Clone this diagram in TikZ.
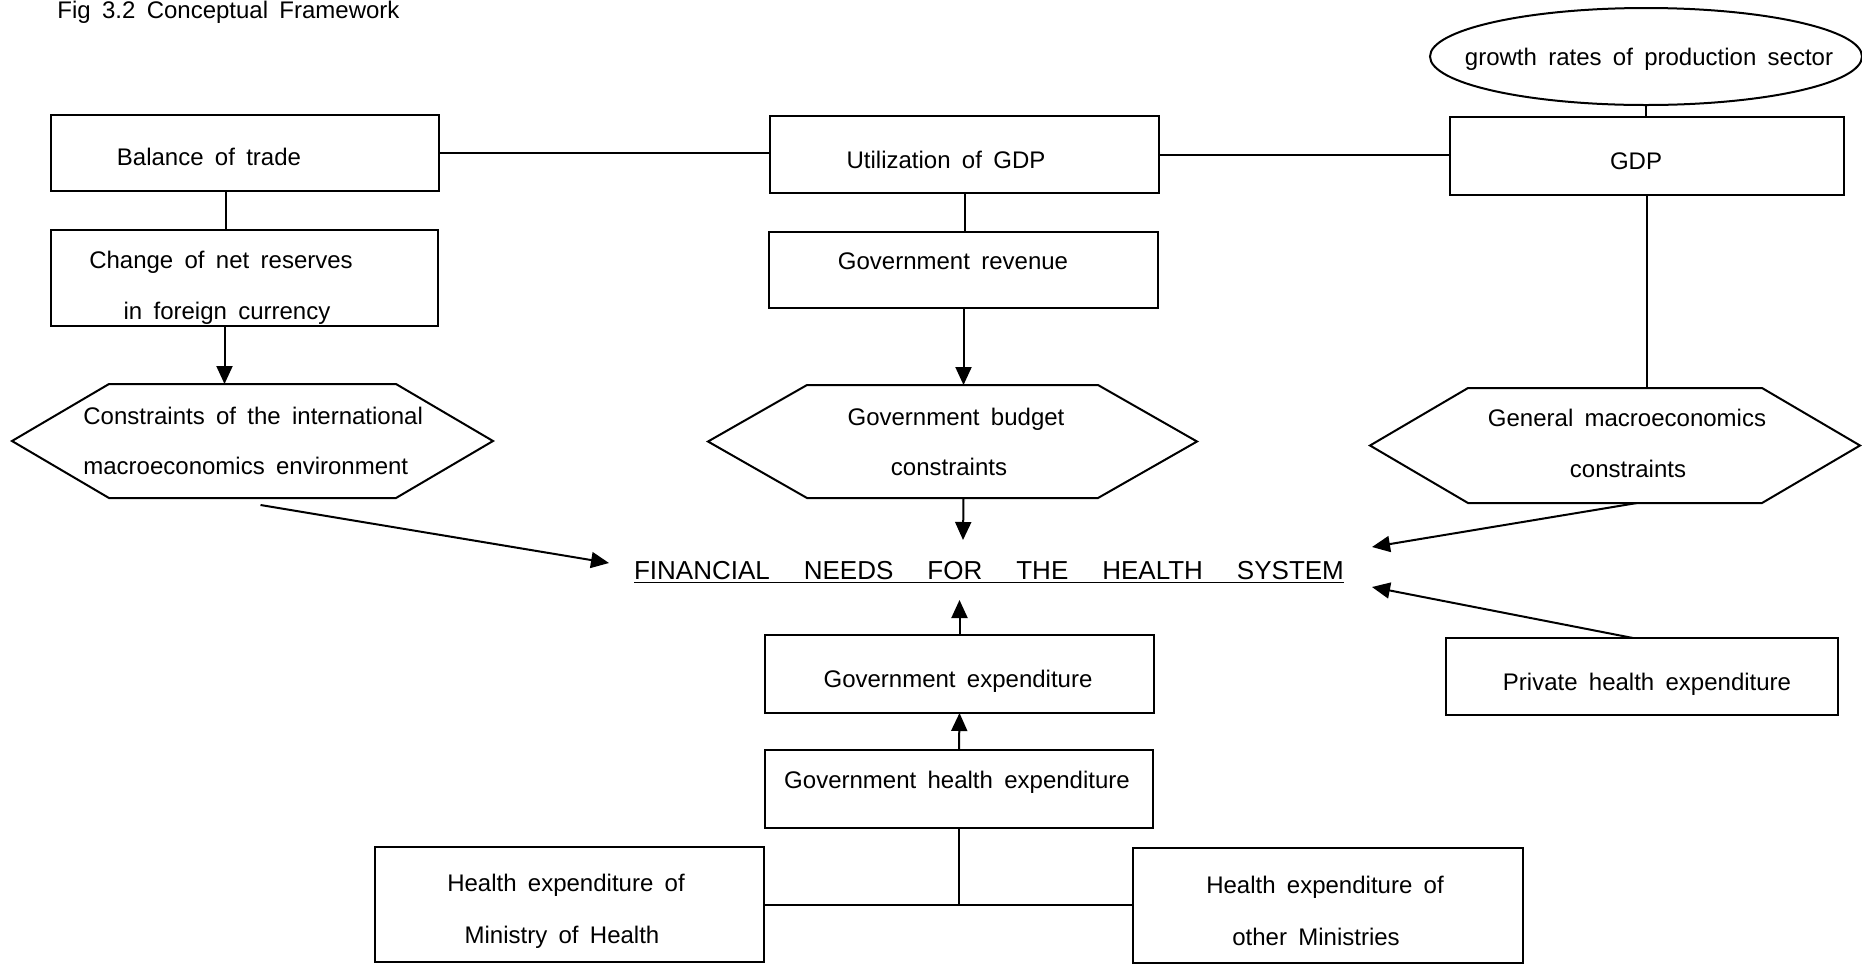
\documentclass[tikz,border=0pt]{standalone}
\usepackage{fontspec}
\setmainfont{Liberation Sans}[WordSpace=1.7]
\usetikzlibrary{arrows.meta,shapes.geometric}
\newcommand\hexdraw[2]{\draw[ln] (#1.west) -- ([xshift=#2]#1.north west) -- ([xshift=-#2]#1.north east) -- (#1.east) -- ([xshift=-#2]#1.south east) -- ([xshift=#2]#1.south west) -- cycle;}
\begin{document}
\begin{tikzpicture}[x=0.5pt,y=-0.5pt]
\tikzset{
 bx/.style={draw, line width=1pt, inner sep=0pt, outer sep=0pt, rectangle},
 hexn/.style={inner sep=0pt, outer sep=0pt, rectangle},
 tx/.style={font=\fontsize{12}{14}\selectfont, inner sep=0pt, text height=8.6pt, text depth=0pt},
 ln/.style={line width=1pt},
 ar/.style={line width=1pt, -{Triangle[length=9pt,width=8pt]}},
}
\useasboundingbox (0,0) rectangle (1862,965);

% boxes
\node[bx, minimum width=194pt, minimum height=38pt] (bal) at (245,153) {};
\node[bx, minimum width=194.5pt, minimum height=38.5pt] (util) at (964.5,154.5) {};
\node[bx, minimum width=197pt, minimum height=39pt] (gdp) at (1647,156) {};
\node[bx, minimum width=193.5pt, minimum height=48pt] (chg) at (244.5,278) {};
\node[bx, minimum width=194.5pt, minimum height=38pt] (rev) at (963.5,270) {};
\node[bx, minimum width=194.5pt, minimum height=39pt] (gexp) at (959.5,674) {};
\node[bx, minimum width=194pt, minimum height=39pt] (ghealth) at (959,789) {};
\node[bx, minimum width=196pt, minimum height=38.5pt] (priv) at (1642,676.5) {};
\node[bx, minimum width=194.5pt, minimum height=57.5pt] (moh) at (569.5,904.5) {};
\node[bx, minimum width=195pt, minimum height=57.5pt] (oth) at (1328,905.5) {};
\node[draw, ellipse, line width=1pt, inner sep=0pt, outer sep=0pt, minimum width=216pt, minimum height=48.5pt] (ell) at (1646,56.5) {};

% hexagons
\node[hexn, minimum width=240.5pt, minimum height=57pt] (hexL) at (252.5,441) {};
\node[hexn, minimum width=244.5pt, minimum height=56.5pt] (hexC) at (952.5,441.5) {};
\node[hexn, minimum width=245pt, minimum height=57.5pt] (hexR) at (1615,445.5) {};
\hexdraw{hexL}{48.5pt}
\hexdraw{hexC}{49.5pt}
\hexdraw{hexR}{49pt}

% texts
\node[tx, anchor=base west] (title) at (57,18) {Fig 3.2 Conceptual Framework};
\node[tx] (tell) at (1649,57) {growth rates of production sector};
\node[tx] (tbal) at (209,157) {Balance of trade};
\node[tx] (tutil) at (946,160) {Utilization of GDP};
\node[tx] (tgdp) at (1636,161) {GDP};
\node[tx] (tchg1) at (221,260) {Change of net reserves};
\node[tx] (tchg2) at (227,311) {in foreign currency};
\node[tx] (trev) at (953,261) {Government revenue};
\node[tx, anchor=west] (thl1) at (83,416) {Constraints of the international};
\node[tx, anchor=west] (thl2) at (83,466) {macroeconomics environment};
\node[tx] (thc1) at (956,417) {Government budget};
\node[tx] (thc2) at (949,467) {constraints};
\node[tx] (thr1) at (1627,418) {General macroeconomics};
\node[tx] (thr2) at (1628,469) {constraints};
\node[tx, font=\fontsize{13}{15}\selectfont, text height=9.3pt] (fin) at (989,570) {\underline{FINANCIAL\hspace{17pt}NEEDS\hspace{17pt}FOR\hspace{17pt}THE\hspace{17pt}HEALTH\hspace{17pt}SYSTEM}};
\node[tx] (tgexp) at (958,679) {Government expenditure};
\node[tx] (tgh) at (957,780) {Government health expenditure};
\node[tx] (tpriv) at (1647,682) {Private health expenditure};
\node[tx] (tmoh1) at (566,883) {Health expenditure of};
\node[tx] (tmoh2) at (562,935) {Ministry of Health};
\node[tx] (toth1) at (1325,885) {Health expenditure of};
\node[tx] (toth2) at (1316,937) {other Ministries};

% free arrow ends near the central title
\coordinate (finL) at (609,563);
\coordinate (finT) at (963,540);
\coordinate (finR1) at (1372,547);
\coordinate (finR2) at (1372,587);
\coordinate (finB) at (963,600);

% plain lines
\draw[ln] (bal.east) -- (bal.east -| util.west);
\draw[ln] (util.east) -- (util.east -| gdp.west);
\draw[ln] (ell.south) -- (ell.south |- gdp.north);
\draw[ln] ([xshift=-9.5pt]bal.south) -- ([xshift=-9.5pt]bal.south |- chg.north);
\draw[ln] (util.south) -- (util.south |- rev.north);
\draw[ln] (gdp.south) -- (gdp.south |- hexR.north);
\draw[ln] (ghealth.south) -- (ghealth.south |- moh.east);
\draw[ln] (moh.east) -- (moh.east -| oth.west);

% arrows
\draw[ar] ([xshift=-10pt]chg.south) -- ([xshift=-10pt]chg.south |- hexL.north);
\draw[ar] (rev.south) -- (rev.south |- hexC.north);
\draw[ar] ([xshift=4pt,yshift=-3.5pt]hexL.south) -- (finL);
\draw[ar] (rev.south |- hexC.south) -- (finT);
\draw[ar] ([xshift=11pt]hexR.south) -- (finR1);
\draw[ar] ([xshift=-4.5pt]priv.north) -- (finR2);
\draw[ar] (gexp.north) -- (gexp.north |- finB);
\draw[ar] (ghealth.north) -- (gexp.south);
\end{tikzpicture}
\end{document}
